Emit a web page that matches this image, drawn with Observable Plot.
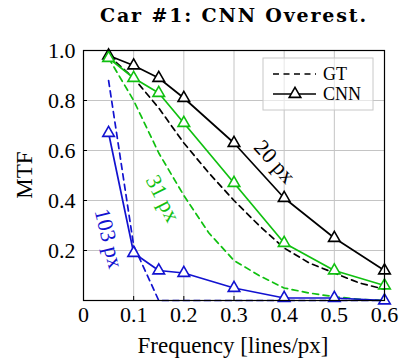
<!DOCTYPE html>
<html><head><meta charset="utf-8">
<script src="https://cdn.jsdelivr.net/npm/d3@7"></script>
<script src="https://cdn.jsdelivr.net/npm/@observablehq/plot@0.6"></script>
<style>html,body{margin:0;padding:0;background:#fff}</style>
</head><body><div id="chart"></div>
<script>
const titleText = "Car #1: CNN Overest.";
const xLabel = "Frequency [lines/px]";
const yLabel = "MTF";
const xTicks = [0, 0.1, 0.2, 0.3, 0.4, 0.5, 0.6];
const yTicks = [0.2, 0.4, 0.6, 0.8, 1.0];

// CNN estimates (markers)
const cnnFreq = [0.05, 0.1, 0.15, 0.2, 0.3, 0.4, 0.5, 0.6];
const cnn20  = [0.98, 0.94, 0.89, 0.81, 0.63, 0.41, 0.25, 0.12];
const cnn31  = [0.97, 0.89, 0.83, 0.71, 0.47, 0.23, 0.12, 0.06];
const cnn103 = [0.67, 0.19, 0.12, 0.11, 0.05, 0.01, 0.01, 0.00];

// Ground truth (dashed)
const gtFreq = [0.05, 0.1, 0.15, 0.2, 0.25, 0.3, 0.35, 0.4, 0.45, 0.5, 0.55, 0.6];
const gt20  = [0.98, 0.89, 0.77, 0.63, 0.51, 0.40, 0.30, 0.21, 0.15, 0.11, 0.07, 0.045];
const gt31  = [0.97, 0.80, 0.59, 0.42, 0.27, 0.16, 0.10, 0.05, 0.03, 0.015, 0.005, 0.0];
const gt103 = [0.88, 0.22, 0.00, 0.00, 0.00, 0.00, 0.00, 0.00, 0.00, 0.00, 0.00, 0.00];

const seriesNames = ["20 px", "31 px", "103 px"];
const seriesColors = ["#000000", "#10c010", "#1212d0"];
const cnnValues = [cnn20, cnn31, cnn103];
const gtValues = [gt20, gt31, gt103];

// label annotations (anchor in data units, angle in degrees)
const labelX = [0.381, 0.158, 0.05];
const labelY = [0.555, 0.408, 0.248];
const labelAngle = [48, 63, 76];

const legendNames = ["GT", "CNN"];
const FONT = "'Liberation Serif', 'Times New Roman', serif";
const TITLE_FONT = "'DejaVu Serif', serif";

const marks = [
  Plot.gridX(xTicks, {stroke: "#c4c4c4", strokeOpacity: 1, strokeWidth: 1}),
  Plot.gridY(yTicks, {stroke: "#c4c4c4", strokeOpacity: 1, strokeWidth: 1}),
  Plot.ruleX(xTicks, {x: d => d, insetTop: 246, stroke: "black", strokeWidth: 1}),
  Plot.ruleY(yTicks, {y: d => d, insetRight: 297, stroke: "black", strokeWidth: 1})
];

seriesNames.forEach((name, k) => {
  const gtRows = gtFreq.map((f, i) => ({f, v: gtValues[k][i]}));
  const cnnRows = cnnFreq.map((f, i) => ({f, v: cnnValues[k][i]}));
  const color = seriesColors[k];
  marks.push(Plot.line(gtRows, {x: "f", y: "v", stroke: color, strokeWidth: 1.7, strokeDasharray: "6,4.5"}));
  marks.push(Plot.line(cnnRows, {x: "f", y: "v", stroke: color, strokeWidth: 1.7}));
  marks.push(Plot.dot(cnnRows, {x: "f", y: "v", symbol: "triangle", r: 4.3, stroke: color, fill: "white", strokeWidth: 1.6}));
});

const labelRows = seriesNames.map((t, k) => ({x: labelX[k], y: labelY[k], t, a: labelAngle[k], c: seriesColors[k]}));
marks.push(Plot.text(labelRows, {x: "x", y: "y", text: "t", rotate: "a", fill: d => d.c, fontSize: 22, textAnchor: "middle", lineAnchor: "middle"}));

marks.push(Plot.frame({stroke: "black", strokeWidth: 1.2}));
marks.push(Plot.axisX({ticks: xTicks, tickSize: 0, tickPadding: 6, label: null, fontSize: 22,
  tickFormat: d => d === 0 ? "0" : d.toFixed(1)}));
marks.push(Plot.axisY({ticks: yTicks, tickSize: 0, tickPadding: 8, label: null, fontSize: 22,
  tickFormat: d => d.toFixed(1)}));

const svg = Plot.plot({
  width: 404, height: 363,
  marginTop: 50, marginBottom: 63, marginLeft: 83, marginRight: 20,
  x: {domain: [0, 0.6]},
  y: {domain: [0, 1]},
  style: {fontFamily: FONT, fontSize: "22px", color: "black", background: "white", overflow: "visible"},
  marks
});

const s = d3.select(svg);
s.selectAll("text").style("font-family", FONT);

s.append("text").attr("x", 233).attr("y", 22).attr("text-anchor", "middle")
  .attr("font-weight", "bold").attr("font-size", 19).attr("textLength", 266).attr("lengthAdjust", "spacing")
  .attr("fill", "black").style("font-family", TITLE_FONT).text(titleText);
s.append("text").attr("x", 233).attr("y", 353).attr("text-anchor", "middle")
  .attr("font-size", 23).attr("fill", "black").style("font-family", FONT).text(xLabel);
s.append("text").attr("transform", "translate(32,175) rotate(-90)").attr("text-anchor", "middle")
  .attr("font-size", 23).attr("fill", "black").style("font-family", FONT).text(yLabel);

// legend
const lg = s.append("g");
lg.append("rect").attr("x", 263).attr("y", 58).attr("width", 110).attr("height", 52)
  .attr("fill", "white").attr("fill-opacity", 0.6).attr("stroke", "#c8c8c8").attr("stroke-width", 1);
lg.append("line").attr("x1", 273).attr("x2", 316).attr("y1", 74).attr("y2", 74)
  .attr("stroke", "black").attr("stroke-width", 1.7).attr("stroke-dasharray", "6,4.5");
lg.append("line").attr("x1", 273).attr("x2", 316).attr("y1", 94).attr("y2", 94)
  .attr("stroke", "black").attr("stroke-width", 1.7);
lg.append("path").attr("d", d3.symbol(d3.symbolTriangle, 4.3 * 4.3 * Math.PI)())
  .attr("transform", "translate(295,94)").attr("fill", "white").attr("stroke", "black").attr("stroke-width", 1.6);
lg.append("text").attr("x", 323).attr("y", 80).attr("text-anchor", "start").attr("font-size", 18).attr("fill", "black").style("font-family", FONT).text(legendNames[0]);
lg.append("text").attr("x", 323).attr("y", 100).attr("text-anchor", "start").attr("font-size", 18).attr("fill", "black").style("font-family", FONT).text(legendNames[1]);

document.getElementById("chart").appendChild(svg);
</script>
</body></html>
